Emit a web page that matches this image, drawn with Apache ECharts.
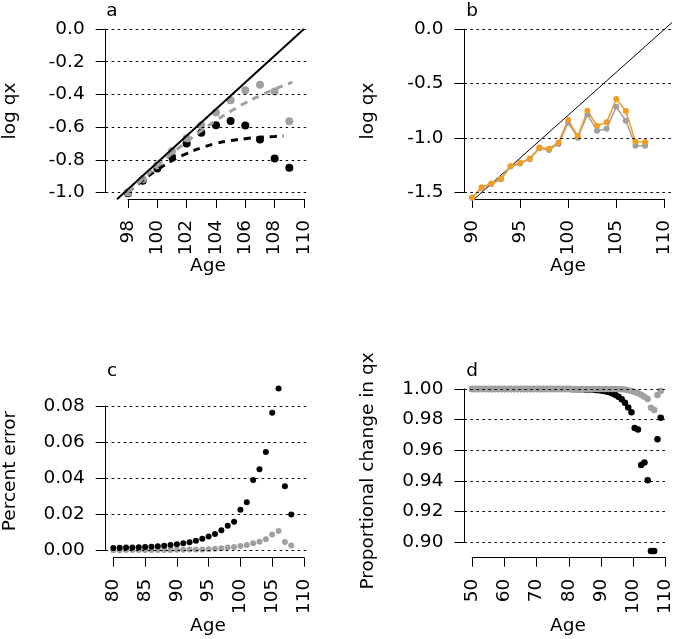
<!DOCTYPE html>
<html><head><meta charset="utf-8">
<script src="https://cdn.jsdelivr.net/npm/echarts@6/dist/echarts.min.js"></script>
<style>html,body{margin:0;padding:0;background:#fff}#c{width:675px;height:639px}</style>
</head><body><div id="c"></div>
<script>
// ---------- DATA ----------
// Panel a
const ageA = [98, 99, 100, 101, 102, 103, 104, 105, 106, 107, 108, 109];
const grayA = [-1.0, -0.919, -0.833, -0.747, -0.669, -0.588, -0.510, -0.435, -0.374, -0.341, -0.382, -0.565];
const blackA = [-1.005, -0.929, -0.853, -0.782, -0.700, -0.635, -0.588, -0.563, -0.590, -0.676, -0.792, -0.849];
const grayFitAgeA = [98, 99, 100, 101, 102, 103, 104, 105, 106, 107, 108, 109, 109.2];
const grayFitA = [-1.0, -0.918, -0.838, -0.762, -0.690, -0.622, -0.560, -0.503, -0.452, -0.408, -0.368, -0.332, -0.325];
const blackFitAgeA = [98, 99, 100, 101, 102, 103, 104, 105, 106, 107, 108, 108.6];
const blackFitA = [-1.0, -0.925, -0.862, -0.805, -0.762, -0.727, -0.700, -0.683, -0.671, -0.663, -0.657, -0.655];
const diagAgeA = [97.25, 110];
const diagA = [-1.041, 0];
// Panel b
const ageB = [90, 91, 92, 93, 94, 95, 96, 97, 98, 99, 100, 101, 102, 103, 104, 105, 106, 107, 108];
const orangeB = [-1.546, -1.454, -1.418, -1.375, -1.258, -1.228, -1.188, -1.087, -1.099, -1.041, -0.836, -0.983, -0.750, -0.888, -0.857, -0.643, -0.753, -1.035, -1.038];
const grayB = [-1.550, -1.460, -1.423, -1.380, -1.263, -1.235, -1.195, -1.095, -1.110, -1.055, -0.860, -0.998, -0.784, -0.934, -0.915, -0.713, -0.842, -1.072, -1.072];
const diagAgeB = [90.24, 110.8];
const diagB = [-1.56, 0.06];
// Panel c
const ageC = [80, 81, 82, 83, 84, 85, 86, 87, 88, 89, 90, 91, 92, 93, 94, 95, 96, 97, 98, 99, 100, 101, 102, 103, 104, 105, 106, 107, 108];
const blackC = [0.0013, 0.0014, 0.0015, 0.0016, 0.0017, 0.0018, 0.0020, 0.0022, 0.0025, 0.0029, 0.0034, 0.0039, 0.0045, 0.0053, 0.0064, 0.0077, 0.0090, 0.0111, 0.0136, 0.0158, 0.0225, 0.0266, 0.0389, 0.0449, 0.0545, 0.0762, 0.0897, 0.0355, 0.0199];
const grayC = [0.0000, 0.0000, 0.0001, 0.0001, 0.0001, 0.0001, 0.0001, 0.0002, 0.0002, 0.0002, 0.0003, 0.0003, 0.0004, 0.0004, 0.0005, 0.0006, 0.0008, 0.0011, 0.0015, 0.0018, 0.0024, 0.0029, 0.0039, 0.0048, 0.0061, 0.0087, 0.0107, 0.0046, 0.0026];
// Panel d
const ageD = [50, 51, 52, 53, 54, 55, 56, 57, 58, 59, 60, 61, 62, 63, 64, 65, 66, 67, 68, 69, 70, 71, 72, 73, 74, 75, 76, 77, 78, 79,
  80, 81, 82, 83, 84, 85, 86, 87, 88, 89, 90, 91, 92, 93, 94, 95, 96, 97, 98, 99, 100, 101, 102, 103, 104, 105, 106, 107, 108];
const blackD = [1, 1, 1, 1, 1, 1, 1, 1, 1, 1, 1, 1, 1, 1, 1, 1, 1, 1, 1, 1, 1, 1, 1, 1, 1, 1, 1, 1, 1, 1,
  0.99995, 0.9999, 0.9999, 0.99985, 0.9998, 0.99975, 0.9997, 0.9996, 0.9994, 0.9992, 0.9989, 0.9985, 0.9980, 0.9973, 0.9963,
  0.9950, 0.9933, 0.9910, 0.9880, 0.9848, 0.9745, 0.9735, 0.9505, 0.9520, 0.9404, 0.8943, 0.8943, 0.9672, 0.9813];
const grayD = [1, 1, 1, 1, 1, 1, 1, 1, 1, 1, 1, 1, 1, 1, 1, 1, 1, 1, 1, 1, 1, 1, 1, 1, 1, 1, 1, 1, 1, 1,
  1, 1, 1, 1, 1, 1, 1, 1, 1, 1, 1, 1, 1, 1, 1,
  0.9999, 0.9998, 0.9996, 0.9992, 0.9987, 0.9980, 0.9972, 0.9962, 0.9950, 0.9935, 0.9878, 0.9863, 0.9961, 0.9987];
// Tick definitions
const xTicksA = [98, 110, 2], yTicksA = [-1, 0, 0.2];
const xTicksB = [90, 110, 5], yTicksB = [-1.5, 0, 0.5];
const xTicksC = [80, 110, 5], yTicksC = [0, 0.08, 0.02];
const xTicksD = [50, 110, 10], yTicksD = [0.9, 1.0, 0.02];

// ---------- BUILD ----------
const FONT = '"DejaVu Sans", Verdana, sans-serif';
const FS = 18.5;
const GRAY = '#a0a0a0';
const ORANGE = '#f39c22';
const zip = (a, b) => a.map((v, i) => [v, b[i]]);

const grids = [], xAxes = [], yAxes = [], series = [], graphics = [];

function panel(p) {
  const sx = v => p.L + (v - p.xmin) / (p.xmax - p.xmin) * p.W;
  const sy = v => p.T + (p.ymax - v) / (p.ymax - p.ymin) * p.H;
  grids.push({left: p.L, top: p.T, width: p.W, height: p.H});
  let g = grids.length - 1;
  xAxes.push({type: 'value', gridIndex: g, min: p.xmin, max: p.xmax, show: false});
  yAxes.push({type: 'value', gridIndex: g, min: p.ymin, max: p.ymax, show: false});
  const xi = xAxes.length - 1, yi = yAxes.length - 1;
  const x0 = sx(p.xt[0]), x1 = sx(p.xt[1]);
  grids.push({left: x0, top: p.T, width: x1 - x0, height: p.H});
  g = grids.length - 1;
  xAxes.push({type: 'value', gridIndex: g, min: p.xt[0], max: p.xt[1], interval: p.xt[2],
    axisLine: {show: true, onZero: false, lineStyle: {color: '#000', width: 1}},
    axisTick: {show: true, length: 9, lineStyle: {color: '#000', width: 1}},
    axisLabel: {rotate: 90, margin: 21, color: '#000', fontFamily: FONT, fontSize: FS},
    splitLine: {show: false}});
  yAxes.push({type: 'value', gridIndex: g, min: 0, max: 1, show: false});
  const y0 = sy(p.yt[1]), y1 = sy(p.yt[0]);
  grids.push({left: p.L, top: y0, width: p.gridEnd - p.L, height: y1 - y0});
  g = grids.length - 1;
  xAxes.push({type: 'value', gridIndex: g, min: 0, max: 1, show: false});
  yAxes.push({type: 'value', gridIndex: g, min: p.yt[0], max: p.yt[1], interval: p.yt[2], z: 5,
    axisLine: {show: true, onZero: false, lineStyle: {color: '#000', width: 1}},
    axisTick: {show: true, length: 10, lineStyle: {color: '#000', width: 1}},
    axisLabel: {margin: 21, color: '#000', fontFamily: FONT, fontSize: FS, formatter: v => v.toFixed(p.yd)},
    splitLine: {show: true, lineStyle: {color: '#000', width: 1, type: [2.5, 3.5]}}});
  return {xAxisIndex: xi, yAxisIndex: yi};
}

function text(str, x, y, rot) {
  graphics.push({type: 'text', x: x, y: y, rotation: rot || 0, silent: true,
    style: {text: str, fill: '#000', font: FS + 'px ' + FONT, textAlign: 'center', textVerticalAlign: 'middle'}});
}
const pts = (color, size) => ({symbolSize: size, itemStyle: {color: color, opacity: 1}});

// Panel a
let ax = panel({L: 105.7, T: 22.5, W: 205.9, H: 176.5, xmin: 96.48, xmax: 110.52, ymin: -1.04, ymax: 0.04,
  xt: xTicksA, yt: yTicksA, yd: 1, gridEnd: 306.7});
series.push(Object.assign({type: 'line', data: zip(diagAgeA, diagA), symbol: 'none', lineStyle: {color: '#000', width: 2}}, ax));
series.push(Object.assign({type: 'line', data: zip(blackFitAgeA, blackFitA), smooth: true, symbol: 'none', lineStyle: {color: '#000', width: 3, type: [7, 6]}}, ax));
series.push(Object.assign({type: 'line', data: zip(grayFitAgeA, grayFitA), smooth: true, symbol: 'none', lineStyle: {color: GRAY, width: 3, type: [7, 6]}}, ax));
series.push(Object.assign({type: 'scatter', data: zip(ageA, blackA)}, pts('#000', 8), ax));
series.push(Object.assign({type: 'scatter', data: zip(ageA, grayA)}, pts(GRAY, 8), ax));

// Panel b
ax = panel({L: 464.4, T: 22.5, W: 207.6, H: 176.4, xmin: 89.2, xmax: 110.8, ymin: -1.56, ymax: 0.06,
  xt: xTicksB, yt: yTicksB, yd: 1, gridEnd: 671});
series.push(Object.assign({type: 'line', data: zip(diagAgeB, diagB), symbol: 'none', lineStyle: {color: '#000', width: 1}}, ax));
series.push(Object.assign({type: 'line', data: zip(ageB, grayB), symbol: 'circle', symbolSize: 6, showSymbol: true,
  lineStyle: {color: GRAY, width: 1.5}, itemStyle: {color: GRAY}}, ax));
series.push(Object.assign({type: 'line', data: zip(ageB, orangeB), symbol: 'circle', symbolSize: 6, showSymbol: true,
  lineStyle: {color: ORANGE, width: 1.5}, itemStyle: {color: ORANGE}}, ax));

// Panel c
ax = panel({L: 105.7, T: 381.4, W: 205.9, H: 176.3, xmin: 78.8, xmax: 111.2, ymin: -0.0041, ymax: 0.0936,
  xt: xTicksC, yt: yTicksC, yd: 2, gridEnd: 308.3});
series.push(Object.assign({type: 'scatter', data: zip(ageC, grayC)}, pts(GRAY, 6), ax));
series.push(Object.assign({type: 'scatter', data: zip(ageC, blackC)}, pts('#000', 6), ax));

// Panel d
ax = panel({L: 464.4, T: 382.5, W: 210.6, H: 175.2, xmin: 47.6, xmax: 112.4, ymin: 0.88995, ymax: 1.00424,
  xt: xTicksD, yt: yTicksD, yd: 2, gridEnd: 668.3});
series.push(Object.assign({type: 'scatter', data: zip(ageD, blackD)}, pts('#000', 6.5), ax));
series.push(Object.assign({type: 'scatter', data: zip(ageD, grayD)}, pts(GRAY, 6.5), ax));

// Texts
text('a', 112, 11.5); text('b', 472, 11.5); text('c', 112, 371); text('d', 472, 371);
text('log qx', 10, 111, Math.PI / 2);
text('log qx', 368, 111, Math.PI / 2);
text('Percent error', 10, 471, Math.PI / 2);
text('Proportional change in qx', 368, 471, Math.PI / 2);
text('Age', 208, 266); text('Age', 568, 266);
text('Age', 208, 626); text('Age', 568, 626);

const chart = echarts.init(document.getElementById('c'), null, {renderer: 'canvas'});
chart.setOption({
  animation: false,
  backgroundColor: '#fff',
  grid: grids, xAxis: xAxes, yAxis: yAxes, series: series, graphic: graphics
});
</script></body></html>
